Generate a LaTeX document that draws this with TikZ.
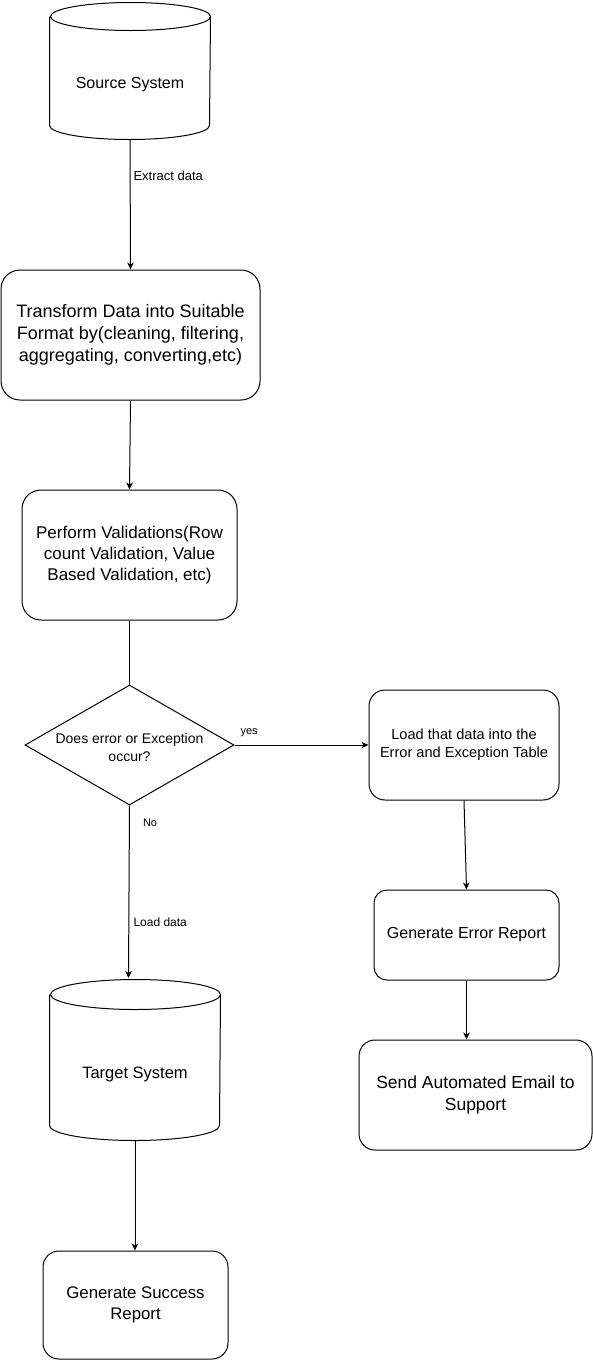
\documentclass[tikz,border=0pt]{standalone}
\usepackage{fontspec}
\setmainfont{Liberation Sans}
\usetikzlibrary{arrows.meta,shapes.geometric}
\tikzset{
  every picture/.style={line width=1pt},
  proc/.style={draw, line width=1pt, align=center, inner sep=0pt},
  cylbody/.style={draw=none, inner sep=0pt},
  arr/.style={draw, line width=1pt, -{Stealth[length=7pt,width=6.5pt,inset=2pt]}},
  plain/.style={draw, line width=1pt},
  lbl/.style={anchor=west, inner sep=0pt}
}
\newcommand{\fs}[2]{\fontsize{#1}{#2}\selectfont}
\begin{document}
\begin{tikzpicture}[x=1pt,y=-1pt]
\fill[white] (0,0) rectangle (593,1361);
\useasboundingbox (0,0) rectangle (593,1361);

% Source System cylinder
\node[cylbody, minimum width=160pt, minimum height=136pt] (src) at (130,71) {};
\draw ([yshift=-14pt]src.north west) -- ([yshift=14pt]src.south west)
  arc[start angle=180, end angle=360, x radius=80pt, y radius=14pt]
  -- ([yshift=-14pt]src.north east)
  arc[start angle=0, end angle=360, x radius=80pt, y radius=14pt];
\node[font=\fs{16}{19}] (srct) at (130,85) {Source System};

% Transform
\node[proc, rounded corners=19pt, minimum width=259pt, minimum height=130pt, font=\fs{18}{22}] (trans) at (130.5,335)
  {Transform Data into Suitable\\Format by(cleaning, filtering,\\aggregating, converting,etc)};

% Perform validations
\node[proc, rounded corners=19pt, minimum width=215pt, minimum height=130pt, font=\fs{17}{21}] (perf) at (129.5,555)
  {Perform Validations(Row\\count Validation, Value\\Based Validation, etc)};

% Decision
\node[diamond, draw, line width=1pt, inner sep=0pt, minimum width=209pt, minimum height=120pt] (dia) at (129.5,745) {};
\node[font=\fs{14}{18}, align=center] (diat) at (129.5,747) {Does error or Exception\\occur?};

% Error table
\node[proc, rounded corners=16pt, minimum width=190pt, minimum height=110pt, font=\fs{14.6}{18}] (err) at (464,745)
  {Load that data into the\\Error and Exception Table};

% Generate Error Report
\node[proc, rounded corners=13pt, minimum width=185pt, minimum height=90pt, font=\fs{16}{19}] (errrep) at (466.5,935)
  {Generate Error Report};

% Send Email
\node[proc, rounded corners=16pt, minimum width=233pt, minimum height=110pt, font=\fs{17.5}{22}] (email) at (475.5,1095)
  {Send Automated Email to\\Support};

% Target System cylinder
\node[cylbody, minimum width=170pt, minimum height=160pt] (tgt) at (135,1060) {};
\draw ([yshift=-15pt]tgt.north west) -- ([yshift=15pt]tgt.south west)
  arc[start angle=180, end angle=360, x radius=85pt, y radius=15pt]
  -- ([yshift=-15pt]tgt.north east)
  arc[start angle=0, end angle=360, x radius=85pt, y radius=15pt];
\node[font=\fs{16.5}{20}] (tgtt) at (135,1074) {Target System};

% Generate Success Report
\node[proc, rounded corners=16pt, minimum width=185pt, minimum height=108pt, font=\fs{16.8}{21}] (succ) at (135.5,1305)
  {Generate Success\\Report};

% Connectors
\draw[arr] (src.south) -- (trans.north);
\node[lbl, font=\fs{13}{15}] (l1) at (133,176) {Extract data};
\draw[arr] (trans.south) -- (perf.north);
\draw[plain] (perf.south) -- (dia.north);
\draw[arr] (dia.east) -- (err.west);
\node[lbl, font=\fs{11}{13}] (l2) at (240,733) {yes};
\draw[arr] (err.south) -- (errrep.north);
\draw[arr] (errrep.south) -- (errrep.south |- email.north);
\coordinate (tgttop) at (128.5,978);
\draw[arr] (dia.south) -- (tgttop);
\node[lbl, font=\fs{11}{13}] (l3) at (142.5,823) {No};
\node[lbl, font=\fs{12}{14}] (l4) at (133,922) {Load data};
\draw[arr] (tgt.south) -- (tgt.south |- succ.north);
\end{tikzpicture}
\end{document}
